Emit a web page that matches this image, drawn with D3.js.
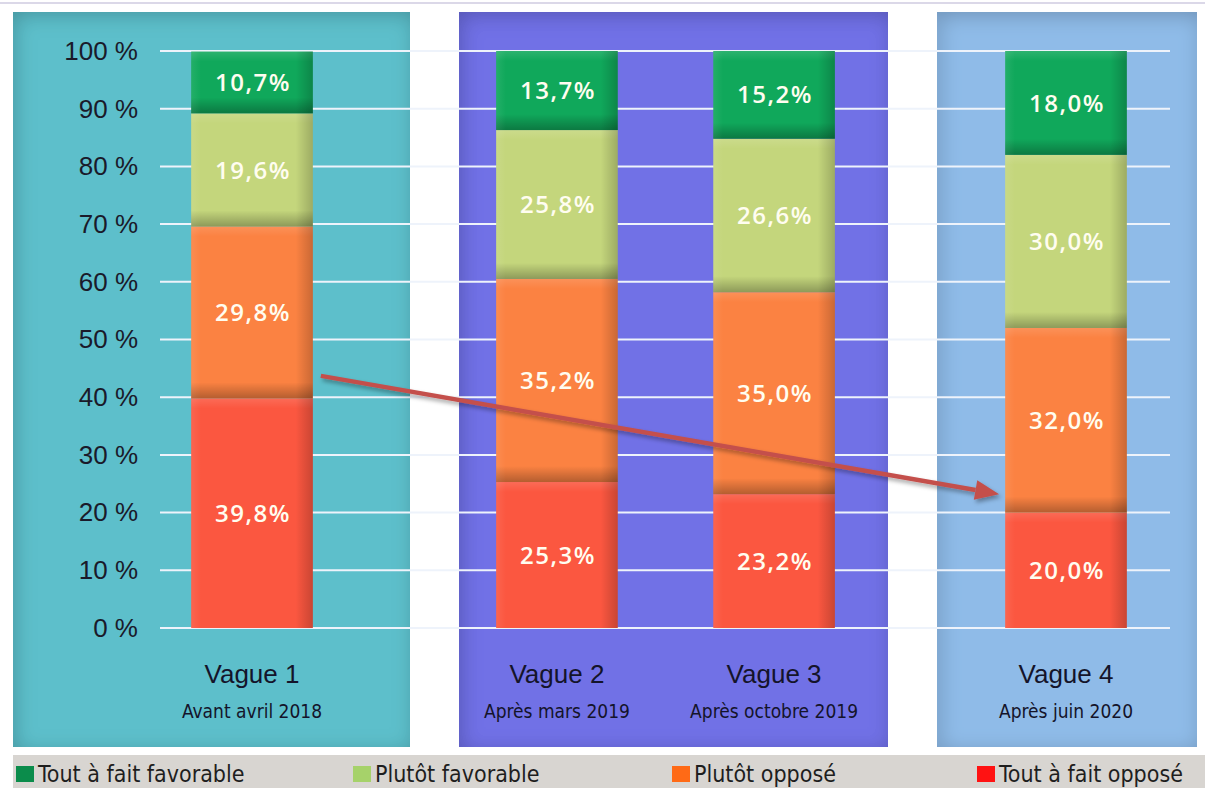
<!DOCTYPE html>
<html><head><meta charset="utf-8">
<script src="https://cdn.jsdelivr.net/npm/d3@7"></script>
<style>
html,body{margin:0;padding:0;background:#fff;}
svg{display:block;}
</style></head>
<body>
<svg id="chart" width="1205" height="788"></svg>
<script>
// ---------- DATA ----------
const waves = ["Vague 1", "Vague 2", "Vague 3", "Vague 4"];
const periods = ["Avant avril 2018", "Après mars 2019", "Après octobre 2019", "Après juin 2020"];
const waveGroups = [["Vague 1"], ["Vague 2", "Vague 3"], ["Vague 4"]];
const seriesNames = ["Tout à fait opposé", "Plutôt opposé", "Plutôt favorable", "Tout à fait favorable"];
const toutOppose      = [39.8, 25.3, 23.2, 20.0];
const plutotOppose    = [29.8, 35.2, 35.0, 32.0];
const plutotFavorable = [19.6, 25.8, 26.6, 30.0];
const toutFavorable   = [10.7, 13.7, 15.2, 18.0];
const yTicks = [0, 10, 20, 30, 40, 50, 60, 70, 80, 90, 100];
const legendOrder = ["Tout à fait favorable", "Plutôt favorable", "Plutôt opposé", "Tout à fait opposé"];
// trend arrow annotation (from Vague 1 to Vague 4, in % units)
const trendFrom = 43.7, trendTo = 23.2;

// ---------- STYLE / LAYOUT ----------
const barColors = {"Tout à fait opposé":"#fb5740","Plutôt opposé":"#fb8242","Plutôt favorable":"#c4d67c","Tout à fait favorable":"#10a85b"};
const legendColors = {"Tout à fait opposé":"#ff1212","Plutôt opposé":"#ff6a16","Plutôt favorable":"#a6d26a","Tout à fait favorable":"#0b8c4b"};
const panels = [
  {x0:13,  x1:410,  fill:"#5dbfcb", range:[126,378]},
  {x0:459, x1:888,  fill:"#7171e6", range:[431,900]},
  {x0:937, x1:1197, fill:"#8fbbe8", range:[940,1192]}
];
const panelTop = 12, panelBottom = 747;
const gridX0 = 160, gridX1 = 1170;

const svg = d3.select("#chart");
const defs = svg.append("defs");

// inner shadow for panels
const f = defs.append("filter").attr("id","inner").attr("x","-5%").attr("y","-5%").attr("width","110%").attr("height","110%");
f.append("feComponentTransfer").attr("in","SourceAlpha").append("feFuncA").attr("type","table").attr("tableValues","1 0");
f.append("feGaussianBlur").attr("stdDeviation",10);
f.append("feOffset").attr("dx",3).attr("dy",4).attr("result","ob");
f.append("feFlood").attr("flood-color","#000").attr("flood-opacity",0.42);
f.append("feComposite").attr("in2","ob").attr("operator","in");
f.append("feComposite").attr("in2","SourceAlpha").attr("operator","in").attr("result","sh");
const fm = f.append("feMerge");
fm.append("feMergeNode").attr("in","SourceGraphic");
fm.append("feMergeNode").attr("in","sh");

// arrow drop shadow
const fa = defs.append("filter").attr("id","ashadow").attr("x","-10%").attr("y","-50%").attr("width","120%").attr("height","200%");
fa.append("feDropShadow").attr("dx",2).attr("dy",3).attr("stdDeviation",2).attr("flood-color","#000").attr("flood-opacity",0.35);

// bar shading gradients
const hg = defs.append("linearGradient").attr("id","hshade").attr("x1",0).attr("x2",1).attr("y1",0).attr("y2",0);
[[0,"#fff",0.08],[0.08,"#fff",0],[0.86,"#000",0],[1,"#000",0.2]].forEach(s=>hg.append("stop").attr("offset",s[0]).attr("stop-color",s[1]).attr("stop-opacity",s[2]));
const vg = defs.append("linearGradient").attr("id","vshade").attr("x1",0).attr("x2",0).attr("y1",0).attr("y2",1);
[[0,"#000",0],[1,"#000",0.28]].forEach(s=>vg.append("stop").attr("offset",s[0]).attr("stop-color",s[1]).attr("stop-opacity",s[2]));
const tg = defs.append("linearGradient").attr("id","tshade").attr("x1",0).attr("x2",0).attr("y1",0).attr("y2",1);
[[0,"#fff",0.12],[1,"#fff",0]].forEach(s=>tg.append("stop").attr("offset",s[0]).attr("stop-color",s[1]).attr("stop-opacity",s[2]));

// top line
svg.append("line").attr("x1",0).attr("x2",1205).attr("y1",3).attr("y2",3).attr("stroke","#cfcbe0").attr("stroke-width",1.5);

// panels
svg.selectAll("rect.panel").data(panels).join("rect").attr("class","panel")
  .attr("x",d=>d.x0).attr("y",panelTop).attr("width",d=>d.x1-d.x0).attr("height",panelBottom-panelTop)
  .attr("fill",d=>d.fill).attr("filter","url(#inner)");

// scales
const y = d3.scaleLinear().domain([0,100]).range([628,51]);
const xScales = panels.map((p,i)=>d3.scaleBand().domain(waveGroups[i]).range(p.range).paddingInner(0.44).paddingOuter(0.3));
const xOf = w => { const i = waveGroups.findIndex(g=>g.includes(w)); return xScales[i]; };

// gridlines
svg.append("g").selectAll("line").data(yTicks).join("line")
  .attr("x1",gridX0).attr("x2",gridX1).attr("y1",d=>y(d)).attr("y2",d=>y(d))
  .attr("stroke","#eef3fb").attr("stroke-width",2);

// y axis
const yAxis = d3.axisLeft(y).tickValues(yTicks).tickSize(0).tickPadding(22).tickFormat(d=>d+" %");
const ga = svg.append("g").attr("transform",`translate(${gridX0},0)`).call(yAxis);
ga.select(".domain").remove();
ga.selectAll("text").attr("font-family","Liberation Sans, Arial, sans-serif").attr("font-size",26).attr("fill","#1a1a2a");

// stacked data
const rows = waves.map((w,i)=>({wave:w,
  "Tout à fait opposé":toutOppose[i],"Plutôt opposé":plutotOppose[i],
  "Plutôt favorable":plutotFavorable[i],"Tout à fait favorable":toutFavorable[i]}));
const stacked = d3.stack().keys(seriesNames)(rows);

const loc = d3.formatLocale({decimal:",",thousands:" ",grouping:[3],currency:["","€"]});
const fmt = loc.format(".1f");

const segs = [];
stacked.forEach(layer=>layer.forEach(d=>segs.push({key:layer.key,wave:d.data.wave,y0:d[0],y1:d[1],v:d.data[layer.key]})));

const gb = svg.append("g");
const seg = gb.selectAll("g.seg").data(segs).join("g").attr("class","seg");
const sx = d=>xOf(d.wave)(d.wave), sw = d=>xOf(d.wave).bandwidth();
const sh = d=>y(d.y0)-y(d.y1);
const shadeH = 16;
seg.append("rect").attr("x",sx).attr("width",sw).attr("y",d=>y(d.y1)).attr("height",sh).attr("fill",d=>barColors[d.key]);
seg.append("rect").attr("x",sx).attr("width",sw).attr("y",d=>y(d.y1)).attr("height",Math.min(10,shadeH)).attr("fill","url(#tshade)");
seg.filter(d=>d.key!==seriesNames[0]).append("rect").attr("x",sx).attr("width",sw).attr("y",d=>y(d.y0)-shadeH).attr("height",shadeH).attr("fill","url(#vshade)");
seg.append("rect").attr("x",sx).attr("width",sw).attr("y",d=>y(d.y1)).attr("height",sh).attr("fill","url(#hshade)");
seg.append("text").attr("x",d=>sx(d)+sw(d)/2+1).attr("y",d=>y((d.y0+d.y1)/2)).attr("dy","0.36em")
  .attr("text-anchor","middle").attr("font-family","Open Sans, Noto Sans, sans-serif").attr("font-size",24)
  .attr("font-weight",600).attr("letter-spacing",1.5).attr("fill","#fffdf0").text(d=>fmt(d.v)+"%");

// category labels
const gl = svg.append("g");
waves.forEach((w,i)=>{
  const cx = xOf(w)(w)+xOf(w).bandwidth()/2;
  gl.append("text").attr("x",cx).attr("y",683).attr("text-anchor","middle")
    .attr("font-family","Liberation Sans, Arial, sans-serif").attr("font-size",26).attr("fill","#14142a").text(w);
  gl.append("text").attr("x",cx).attr("y",718).attr("text-anchor","middle")
    .attr("font-family","Liberation Sans Narrow, DejaVu Sans Condensed, sans-serif").attr("font-size",19).attr("fill","#14142a").text(periods[i]);
});

// trend arrow
const w1 = waves[0], w4 = waves[3];
const ax1 = xOf(w1)(w1)+xOf(w1).bandwidth()+8, ay1 = y(trendFrom);
const ax2 = xOf(w4)(w4)-6, ay2 = y(trendTo);
const ang = Math.atan2(ay2-ay1, ax2-ax1);
const headL = 24, headW = 10;
const bx = ax2 - headL*Math.cos(ang), by = ay2 - headL*Math.sin(ang);
const ag = svg.append("g").attr("filter","url(#ashadow)");
ag.append("line").attr("x1",ax1).attr("y1",ay1).attr("x2",bx).attr("y2",by).attr("stroke","#c4504c").attr("stroke-width",4.5);
ag.append("path").attr("d",`M${ax2},${ay2} L${bx - headW*Math.sin(ang)},${by + headW*Math.cos(ang)} L${bx + headW*Math.sin(ang)},${by - headW*Math.cos(ang)} Z`).attr("fill","#c4504c");

// legend
svg.append("rect").attr("x",13).attr("y",755).attr("width",1192).attr("height",33).attr("fill","#d8d5d1");
const legendX = [16, 353, 672, 977];
const lg = svg.append("g").selectAll("g").data(legendOrder).join("g").attr("transform",(d,i)=>`translate(${legendX[i]},0)`);
lg.append("rect").attr("x",0).attr("y",766).attr("width",18).attr("height",16).attr("fill",d=>legendColors[d]);
lg.append("text").attr("x",22).attr("y",782).attr("font-family","Liberation Sans Narrow, DejaVu Sans Condensed, sans-serif")
  .attr("font-size",23).attr("fill","#1e1e1e").text(d=>d);
</script>
</body></html>
